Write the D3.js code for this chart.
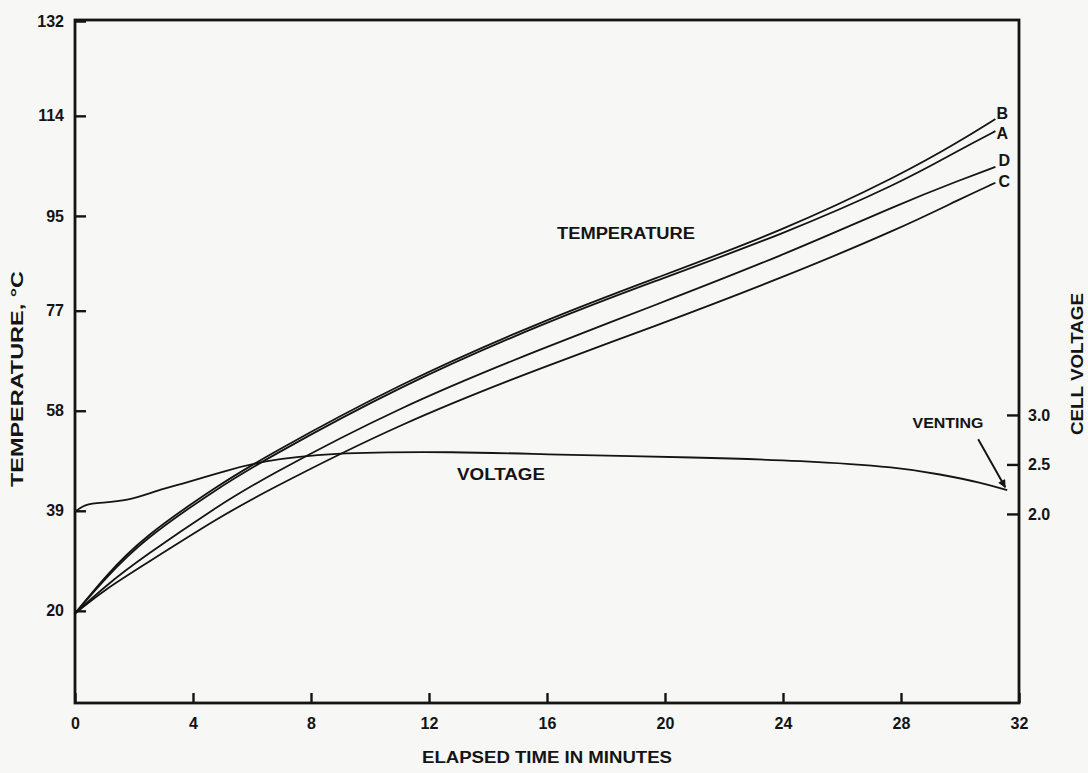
<!DOCTYPE html>
<html>
<head>
<meta charset="utf-8">
<script src="https://cdn.jsdelivr.net/npm/d3@7"></script>
<style>
  html, body { margin: 0; padding: 0; background: #f7f7f5; }
  svg { display: block; }
  text { font-family: "Liberation Sans", Arial, sans-serif; font-weight: bold; fill: #141414; }
</style>
</head>
<body>
<div id="chart"></div>
<script>
/* ===== Data ===== */
const timeMin = [0, 1, 2.3, 4.9, 6.3, 11, 16, 19.5, 24, 28, 30, 31.2];
const tempB = [19.5, 26.4, 34.0, 44.0, 48.8, 63.2, 75.4, 82.8, 92.2, 102.8, 109.2, 113.4];
const tempA = [19.5, 26.0, 33.5, 43.5, 48.3, 62.7, 74.9, 82.3, 91.5, 101.3, 107.6, 111.1];
const tempD = [19.5, 24.6, 30.2, 40.1, 44.9, 58.8, 70.2, 77.7, 87.5, 97.4, 101.8, 104.3];
const tempC = [19.5, 24.0, 28.6, 37.8, 42.2, 55.6, 66.6, 73.7, 83.3, 92.7, 98.2, 101.3];

const voltTime = [0, 0.25, 0.6, 1.8, 2.8, 3.7, 5.15, 6.3, 8.5, 13, 16.1, 21.2, 24.6, 28, 29.3, 30.7, 31.6];
const cellVolt = [2.02, 2.08, 2.11, 2.13, 2.24, 2.31, 2.44, 2.53, 2.62, 2.63, 2.6, 2.57, 2.54, 2.47, 2.4, 2.32, 2.24];

const timeTicks = [0, 4, 8, 12, 16, 20, 24, 28, 32];
const tempTicks = [20, 39, 58, 77, 95, 114, 132];
const voltTicks = [2.0, 2.5, 3.0];

const seriesNames = ["B", "A", "D", "C"];
const seriesTemps = [tempB, tempA, tempD, tempC];

/* ===== Layout ===== */
const W = 1088, H = 773;
const m = { top: 20, right: 69, bottom: 70, left: 75 };
const ink = "#141414";

const svg = d3.select("#chart").append("svg")
  .attr("width", W).attr("height", H)
  .attr("viewBox", [0, 0, W, H]);

const x = d3.scaleLinear().domain([0, 32]).range([m.left, W - m.right]);
const y = d3.scaleLinear().domain([2.5, 132.2]).range([H - m.bottom, m.top]);
const yV = d3.scaleLinear().domain([0.09, 6.99]).range([H - m.bottom, m.top]);

/* ===== Axes ===== */
const gx = svg.append("g")
  .attr("transform", `translate(0,${H - m.bottom})`)
  .call(d3.axisBottom(x).tickValues(timeTicks).tickSizeInner(-10).tickSizeOuter(0).tickPadding(15));

const gy = svg.append("g")
  .attr("transform", `translate(${m.left},0)`)
  .call(d3.axisLeft(y).tickValues(tempTicks).tickSizeInner(-11).tickSizeOuter(0).tickPadding(11));

const gv = svg.append("g")
  .attr("transform", `translate(${W - m.right},0)`)
  .call(d3.axisRight(yV).tickValues(voltTicks).tickFormat(d3.format(".1f"))
    .tickSizeInner(-12).tickSizeOuter(0).tickPadding(9));

[gx, gy, gv].forEach(g => {
  g.select(".domain").remove();
  g.selectAll(".tick line").attr("stroke", ink).attr("stroke-width", 2.4);
  g.selectAll(".tick text")
    .attr("fill", ink)
    .style("font-family", "'Liberation Sans', Arial, sans-serif")
    .style("font-weight", "bold")
    .style("font-size", "16px");
});

// frame
svg.append("rect")
  .attr("x", m.left).attr("y", m.top)
  .attr("width", W - m.left - m.right).attr("height", H - m.top - m.bottom)
  .attr("fill", "none")
  .attr("stroke", ink)
  .attr("stroke-width", 2.8);

/* ===== Axis titles ===== */
svg.append("text")
  .attr("x", (m.left + W - m.right) / 2).attr("y", 757)
  .attr("text-anchor", "middle").attr("dominant-baseline", "central")
  .attr("font-size", 16)
  .attr("textLength", 250).attr("lengthAdjust", "spacingAndGlyphs")
  .text("ELAPSED TIME IN MINUTES");

svg.append("text")
  .attr("transform", "translate(17,379) rotate(-90)")
  .attr("text-anchor", "middle").attr("dominant-baseline", "central")
  .attr("font-size", 16)
  .attr("textLength", 216).attr("lengthAdjust", "spacingAndGlyphs")
  .text("TEMPERATURE, °C");

svg.append("text")
  .attr("transform", "translate(1077,364) rotate(-90)")
  .attr("text-anchor", "middle").attr("dominant-baseline", "central")
  .attr("font-size", 16)
  .attr("textLength", 142).attr("lengthAdjust", "spacingAndGlyphs")
  .text("CELL VOLTAGE");

/* ===== Curves ===== */
const tempLine = d3.line()
  .x((d, i) => x(timeMin[i]))
  .y(d => y(d))
  .curve(d3.curveBasis);

const plot = svg.append("g");

plot.selectAll("path.temp")
  .data(seriesTemps)
  .join("path")
  .attr("class", "temp")
  .attr("d", tempLine)
  .attr("fill", "none")
  .attr("stroke", ink)
  .attr("stroke-width", 1.8)
  .attr("stroke-linejoin", "round");

const voltLine = d3.line()
  .x((d, i) => x(voltTime[i]))
  .y(d => yV(d))
  .curve(d3.curveBasis);

plot.append("path")
  .datum(cellVolt)
  .attr("d", voltLine)
  .attr("fill", "none")
  .attr("stroke", ink)
  .attr("stroke-width", 1.8);

/* ===== Curve labels ===== */
const labelOffset = { B: [7, -6], A: [7, 2], D: [9, -6], C: [9, -1] };
const last = timeMin.length - 1;

plot.selectAll("text.series")
  .data(seriesNames)
  .join("text")
  .attr("class", "series")
  .attr("x", (d, i) => x(timeMin[last]) + labelOffset[d][0])
  .attr("y", (d, i) => y(seriesTemps[i][last]) + labelOffset[d][1])
  .attr("text-anchor", "middle").attr("dominant-baseline", "central")
  .attr("font-size", 16)
  .text(d => d);

svg.append("text")
  .attr("x", 626).attr("y", 233)
  .attr("text-anchor", "middle").attr("dominant-baseline", "central")
  .attr("font-size", 16)
  .attr("textLength", 138).attr("lengthAdjust", "spacingAndGlyphs")
  .text("TEMPERATURE");

svg.append("text")
  .attr("x", 501).attr("y", 474)
  .attr("text-anchor", "middle").attr("dominant-baseline", "central")
  .attr("font-size", 16)
  .attr("textLength", 88).attr("lengthAdjust", "spacingAndGlyphs")
  .text("VOLTAGE");

/* ===== Venting arrow ===== */
const tipX = x(voltTime[voltTime.length - 1]);
const tipY = yV(cellVolt[cellVolt.length - 1]);

svg.append("defs").append("marker")
  .attr("id", "arrow")
  .attr("viewBox", "0 0 10 10")
  .attr("refX", 9).attr("refY", 5)
  .attr("markerWidth", 11).attr("markerHeight", 8)
  .attr("markerUnits", "userSpaceOnUse")
  .attr("orient", "auto")
  .append("path")
  .attr("d", "M0,0 L10,5 L0,10 Z")
  .attr("fill", ink);

svg.append("line")
  .attr("x1", tipX - 29).attr("y1", tipY - 51)
  .attr("x2", tipX - 2).attr("y2", tipY - 3)
  .attr("stroke", ink)
  .attr("stroke-width", 2)
  .attr("marker-end", "url(#arrow)");

svg.append("text")
  .attr("x", 948).attr("y", 423)
  .attr("text-anchor", "middle").attr("dominant-baseline", "central")
  .attr("font-size", 14)
  .attr("textLength", 71).attr("lengthAdjust", "spacingAndGlyphs")
  .text("VENTING");
</script>
</body>
</html>
